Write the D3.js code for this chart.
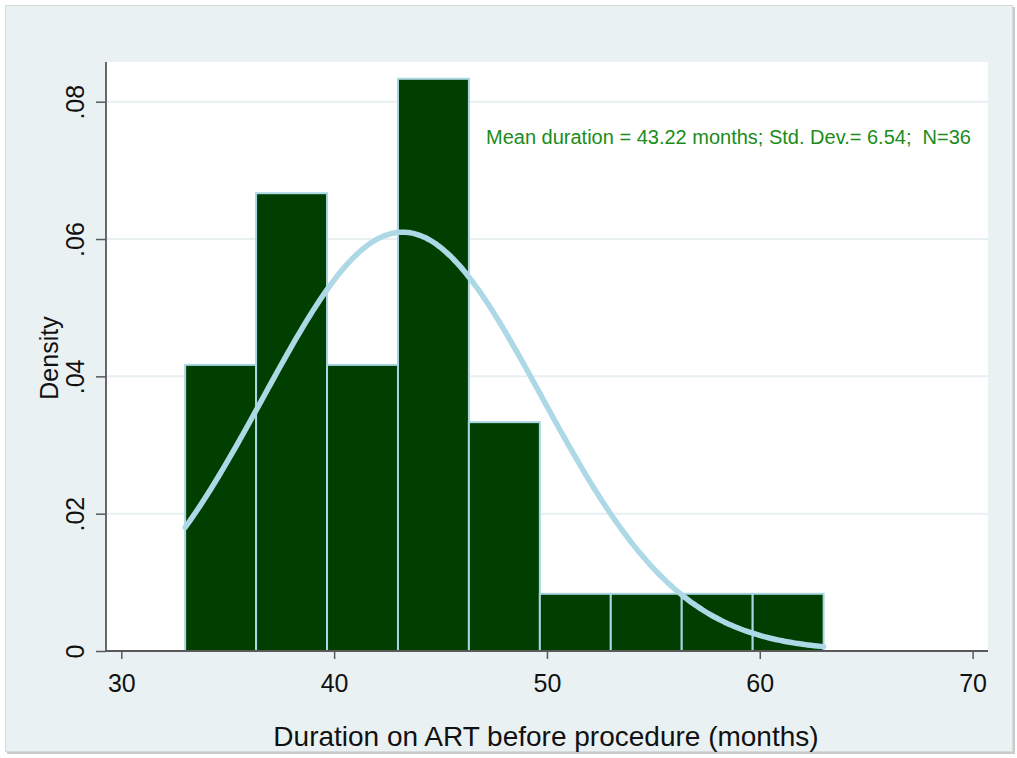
<!DOCTYPE html>
<html>
<head>
<meta charset="utf-8">
<script src="https://cdn.jsdelivr.net/npm/d3@7"></script>
<style>
  html, body { margin: 0; padding: 0; background: #ffffff; }
  svg { display: block; font-family: "Liberation Sans", Arial, Helvetica, sans-serif; }
</style>
</head>
<body>
<svg id="chart" width="1017" height="758"></svg>
<script>
// Histogram bins (months) and their densities
const binEdges = [33, 36.333, 39.667, 43, 46.333, 49.667, 53, 56.333, 59.667, 63];
const densities = [0.04167, 0.06667, 0.04167, 0.08333, 0.03333, 0.00833, 0.00833, 0.00833, 0.00833];

// Summary statistics used for the normal overlay
const meanDuration = 43.22;
const sdDuration = 6.54;
const nObs = 36;

const xTicks = [30, 40, 50, 60, 70];
const yTicks = [0, 0.02, 0.04, 0.06, 0.08];
const yTickLabels = ["0", ".02", ".04", ".06", ".08"];

const svg = d3.select("#chart");

// Outer graph region with frame and a soft shadow
svg.append("rect").attr("x", 7).attr("y", 7).attr("width", 1008).attr("height", 747)
  .attr("fill", "#c9cccd");
svg.append("rect").attr("x", 5.5).attr("y", 5.5).attr("width", 1007).attr("height", 746)
  .attr("fill", "#eaf1f3").attr("stroke", "#d6dadb").attr("stroke-width", 1);

const plot = { left: 106, right: 988, top: 62, bottom: 651 };

svg.append("rect")
  .attr("x", plot.left).attr("y", plot.top)
  .attr("width", plot.right - plot.left).attr("height", plot.bottom - plot.top)
  .attr("fill", "#ffffff");

const x = d3.scaleLinear().domain([30, 70]).range([121.3, 972.6]);
const y = d3.scaleLinear().domain([0, 0.08]).range([651, 101.7]);

// Horizontal grid lines
svg.append("g").selectAll("line")
  .data(yTicks.filter(d => d > 0))
  .join("line")
  .attr("x1", plot.left).attr("x2", plot.right)
  .attr("y1", d => y(d)).attr("y2", d => y(d))
  .attr("stroke", "#e8f0f2").attr("stroke-width", 2);

// Histogram bars
const bins = densities.map((d, i) => ({ x0: binEdges[i], x1: binEdges[i + 1], density: d }));
svg.append("g").selectAll("rect")
  .data(bins)
  .join("rect")
  .attr("x", d => x(d.x0))
  .attr("y", d => y(d.density))
  .attr("width", d => x(d.x1) - x(d.x0))
  .attr("height", d => y(0) - y(d.density))
  .attr("fill", "#003f00")
  .attr("stroke", "#a9d6e3")
  .attr("stroke-width", 2);

// Normal density with the sample mean and standard deviation
const normalPdf = v => Math.exp(-0.5 * ((v - meanDuration) / sdDuration) ** 2) / (sdDuration * Math.sqrt(2 * Math.PI));
const curveX = d3.range(0, 201).map(i => binEdges[0] + (binEdges[binEdges.length - 1] - binEdges[0]) * i / 200);
svg.append("path")
  .datum(curveX)
  .attr("fill", "none")
  .attr("stroke", "#add8e6")
  .attr("stroke-width", 5.5)
  .attr("stroke-linecap", "round")
  .attr("d", d3.line().x(d => x(d)).y(d => y(normalPdf(d))).curve(d3.curveBasis));

// Axes
const xAxis = svg.append("g")
  .attr("transform", `translate(0,${plot.bottom})`)
  .call(d3.axisBottom(x).tickValues(xTicks).tickSize(8).tickPadding(15).tickFormat(d3.format("d")));
xAxis.select(".domain").attr("d", `M${plot.left},0H${plot.right}`).attr("stroke", "#595959").attr("stroke-width", 1.8);
xAxis.selectAll(".tick line").attr("stroke", "#595959").attr("stroke-width", 1.5);
xAxis.selectAll(".tick text").attr("font-size", 25).attr("fill", "#111");

const yAxis = svg.append("g")
  .attr("transform", `translate(${plot.left},0)`)
  .call(d3.axisLeft(y).tickValues(yTicks).tickSize(10).tickFormat((d, i) => yTickLabels[i]));
yAxis.select(".domain").attr("d", `M0,${plot.bottom}V${plot.top}`).attr("stroke", "#595959").attr("stroke-width", 1.8);
yAxis.selectAll(".tick line").attr("stroke", "#595959").attr("stroke-width", 1.5);
yAxis.selectAll(".tick text")
  .attr("font-size", 25).attr("fill", "#111")
  .attr("x", null).attr("dy", null)
  .attr("text-anchor", "middle")
  .attr("transform", "translate(-22,0) rotate(-90)")
  .attr("y", 0);

// Axis titles
svg.append("text")
  .attr("x", 546).attr("y", 746)
  .attr("text-anchor", "middle")
  .attr("font-size", 28).attr("fill", "#111")
  .text("Duration on ART before procedure (months)");

svg.append("text")
  .attr("transform", `translate(58,358) rotate(-90)`)
  .attr("text-anchor", "middle")
  .attr("font-size", 25).attr("fill", "#111")
  .text("Density");

// Summary annotation
svg.append("text")
  .attr("x", 486).attr("y", 144)
  .attr("font-size", 20).attr("fill", "#1b8c1b")
  .text(`Mean duration = ${meanDuration} months; Std. Dev.= ${sdDuration};\u00a0\u00a0N=${nObs}`);
</script>
</body>
</html>
